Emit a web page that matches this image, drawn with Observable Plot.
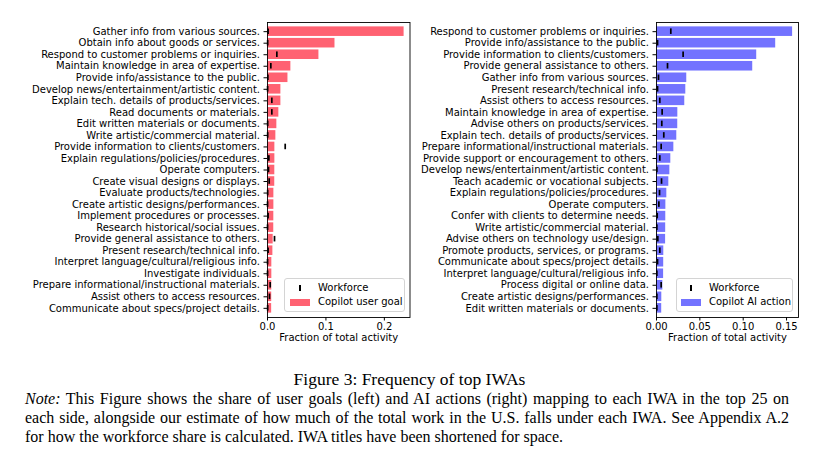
<!DOCTYPE html>
<html><head><meta charset="utf-8">
<script src="https://cdn.jsdelivr.net/npm/d3@7"></script>
<script src="https://cdn.jsdelivr.net/npm/@observablehq/plot@0.6"></script>
<style>
html,body{margin:0;padding:0;background:#fff;}
body{width:819px;height:459px;position:relative;overflow:hidden;font-family:"DejaVu Sans";}
#left{position:absolute;left:0;top:0;}
#right{position:absolute;left:420px;top:0;}
.legend{position:absolute;box-sizing:border-box;border:1px solid #d4d4d4;border-radius:3px;background:rgba(255,255,255,0.85);font:10px "DejaVu Sans";color:#000;}
.legend .mk{position:absolute;width:1.7px;height:6px;background:#000;}
.legend .sw{position:absolute;width:20px;height:7px;}
.legend .tx{position:absolute;line-height:12px;white-space:nowrap;}
#title{position:absolute;left:0;width:819px;top:369px;text-align:center;font:17.5px "Liberation Serif";color:#000;line-height:20px;}
#note{position:absolute;left:25px;width:764px;top:389px;font:16px "Liberation Serif";color:#000;line-height:19px;}
#note .j{text-align:justify;text-align-last:justify;}
</style>
</head><body>
<div id="left"></div>
<div id="right"></div>
<div class="legend" style="left:284px;top:278px;width:121px;height:34px;">
  <div class="mk" style="left:14px;top:6px;"></div><div class="tx" style="left:33px;top:3px;">Workforce</div>
  <div class="sw" style="left:5px;top:20px;background:#ff6272;"></div><div class="tx" style="left:33px;top:17px;">Copilot user goal</div>
</div>
<div class="legend" style="left:676px;top:278px;width:117px;height:34px;">
  <div class="mk" style="left:13px;top:6px;"></div><div class="tx" style="left:32px;top:3px;">Workforce</div>
  <div class="sw" style="left:4px;top:20px;background:#7373ff;"></div><div class="tx" style="left:32px;top:17px;">Copilot AI action</div>
</div>
<div id="title">Figure 3: Frequency of top IWAs</div>
<div id="note">
  <div class="j"><i>Note:</i> This Figure shows the share of user goals (left) and AI actions (right) mapping to each IWA in the top 25 on</div>
  <div class="j">each side, alongside our estimate of how much of the total work in the U.S. falls under each IWA. See Appendix A.2</div>
  <div>for how the workforce share is calculated. IWA titles have been shortened for space.</div>
</div>
<script>
const leftLabels = [
  "Gather info from various sources.",
  "Obtain info about goods or services.",
  "Respond to customer problems or inquiries.",
  "Maintain knowledge in area of expertise.",
  "Provide info/assistance to the public.",
  "Develop news/entertainment/artistic content.",
  "Explain tech. details of products/services.",
  "Read documents or materials.",
  "Edit written materials or documents.",
  "Write artistic/commercial material.",
  "Provide information to clients/customers.",
  "Explain regulations/policies/procedures.",
  "Operate computers.",
  "Create visual designs or displays.",
  "Evaluate products/technologies.",
  "Create artistic designs/performances.",
  "Implement procedures or processes.",
  "Research historical/social issues.",
  "Provide general assistance to others.",
  "Present research/technical info.",
  "Interpret language/cultural/religious info.",
  "Investigate individuals.",
  "Prepare informational/instructional materials.",
  "Assist others to access resources.",
  "Communicate about specs/project details."
];
const leftUserGoal = [0.2338, 0.1155, 0.088, 0.040, 0.035, 0.0229, 0.0229, 0.0194, 0.016, 0.0143,
  0.0126, 0.0126, 0.0125, 0.0124, 0.0109, 0.0109, 0.0108, 0.0107, 0.0097, 0.0092,
  0.0074, 0.0074, 0.0073, 0.0072, 0.0071];
const leftWorkforce = [0.001, 0.0003, 0.016, 0.0057, 0.0006, 0.0002, 0.0074, 0.0074, 0.0003, 0.0003,
  0.0303, 0.0023, 0.0017, 0.0029, 0.0003, 0.0001, 0.001, 0.0001, 0.012, 0.001,
  0.0001, 0.0001, 0.0046, 0.0034, 0.0003];

const rightLabels = [
  "Respond to customer problems or inquiries.",
  "Provide info/assistance to the public.",
  "Provide information to clients/customers.",
  "Provide general assistance to others.",
  "Gather info from various sources.",
  "Present research/technical info.",
  "Assist others to access resources.",
  "Maintain knowledge in area of expertise.",
  "Advise others on products/services.",
  "Explain tech. details of products/services.",
  "Prepare informational/instructional materials.",
  "Provide support or encouragement to others.",
  "Develop news/entertainment/artistic content.",
  "Teach academic or vocational subjects.",
  "Explain regulations/policies/procedures.",
  "Operate computers.",
  "Confer with clients to determine needs.",
  "Write artistic/commercial material.",
  "Advise others on technology use/design.",
  "Promote products, services, or programs.",
  "Communicate about specs/project details.",
  "Interpret language/cultural/religious info.",
  "Process digital or online data.",
  "Create artistic designs/performances.",
  "Edit written materials or documents."
];
const rightAIAction = [0.157, 0.1375, 0.1156, 0.111, 0.0349, 0.0338, 0.0326, 0.0246, 0.0245, 0.0234,
  0.020, 0.0165, 0.0154, 0.0142, 0.0119, 0.0108, 0.0107, 0.0106, 0.0105, 0.0084,
  0.0083, 0.0082, 0.0073, 0.0061, 0.006];
const rightWorkforce = [0.0165, 0.0012, 0.0307, 0.0127, 0.0023, 0.0012, 0.0038, 0.0065, 0.0061, 0.0084,
  0.0054, 0.0038, 0.0004, 0.0058, 0.0035, 0.0027, 0.0008, 0.0004, 0.0015, 0.0038,
  0.0012, 0.0004, 0.0054, 0.0004, 0.0004];

const leftTicks = [0, 0.1, 0.2];
const rightTicks = [0, 0.05, 0.10, 0.15];

function panel(labels, vals, work, color, xmax, ticks, fmt, width, ml, mr) {
  const data = labels.map((l, i) => ({label: l, v: vals[i], w: work[i]}));
  return Plot.plot({
    width, height: 350,
    marginLeft: ml, marginRight: mr, marginTop: 22, marginBottom: 33,
    style: {fontFamily: "DejaVu Sans", fontSize: "10px", color: "black", background: "white", overflow: "visible"},
    x: {domain: [0, xmax]},
    y: {domain: labels, paddingInner: 0.17, paddingOuter: 0.38, round: false},
    marks: [
      Plot.barX(data, {x: "v", y: "label", fill: color}),
      Plot.tickX(data, {x: "w", y: "label", stroke: "black", strokeWidth: 1.7, insetTop: 2, insetBottom: 2}),
      Plot.frame({stroke: "black", strokeWidth: 0.9}),
      Plot.axisX({ticks, tickFormat: d3.format(fmt), tickSize: 3.5, tickPadding: 1.5, label: null, fontSize: 10}),
      Plot.axisY({tickSize: 3.5, tickPadding: 4, label: null, fontSize: 10}),
      Plot.text(["Fraction of total activity"], {frameAnchor: "bottom", dy: 23, text: d => d, fontSize: 10, fill: "black"})
    ]
  });
}

document.getElementById("left").append(
  panel(leftLabels, leftUserGoal, leftWorkforce, "#ff6272", 0.2439, leftTicks, ".1f", 420, 267, 10.5));
document.getElementById("right").append(
  panel(rightLabels, rightAIAction, rightWorkforce, "#7373ff", 0.1638, rightTicks, ".2f", 399, 236, 21));
</script>
</body></html>
